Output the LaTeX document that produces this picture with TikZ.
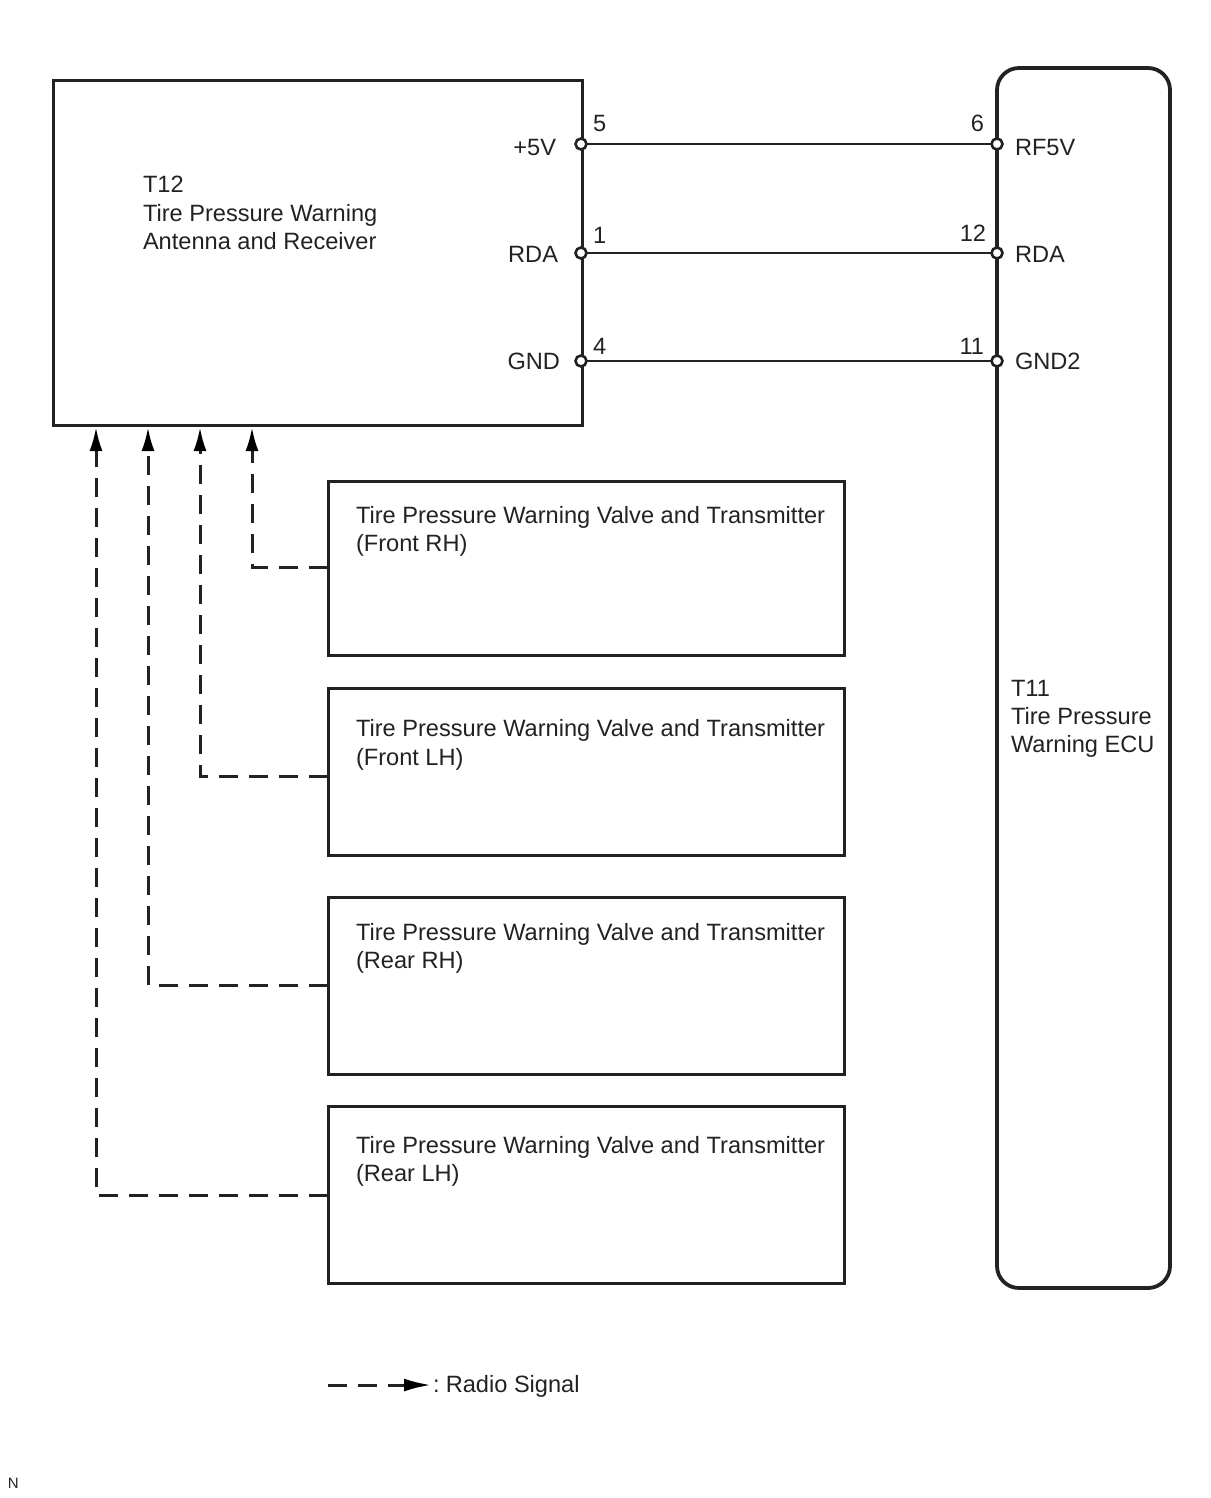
\documentclass[tikz,border=0pt]{standalone}
\usepackage{fontspec}
\setmainfont{Liberation Sans}
\usetikzlibrary{arrows.meta,calc}
\definecolor{ink}{HTML}{222222}
\tikzset{
  x=1pt,y=-1pt,
  boxed/.style={draw=ink,line width=3pt,inner sep=0pt,outer sep=0pt,anchor=north west},
  lbl/.style={inner sep=0pt,outer sep=0pt,anchor=base west,font=\fontsize{23.6}{28}\selectfont,text=ink},
  lblr/.style={lbl,anchor=base east},
  pin/.style={circle,draw=ink,fill=white,line width=2.6pt,inner sep=0pt,minimum size=11pt,outer sep=0pt},
  wire/.style={draw=ink,line width=2.7pt},
  radio/.style={draw=ink,line width=3pt,dash pattern=on 19pt off 11pt,-{Latex[length=24pt,width=13pt,color=black]}},
}
\begin{document}
\begin{tikzpicture}
\useasboundingbox (0,0) rectangle (1210,1498);
% boxes
\node[boxed,minimum width=529pt,minimum height=344pt] (rx) at (53,81) {};
\node[boxed,line width=3.8pt,rounded corners=22pt,minimum width=173pt,minimum height=1220pt] (ecu) at (997,68) {};
\node[boxed,minimum width=516pt,minimum height=174pt] (fr) at (328,481) {};
\node[boxed,minimum width=516pt,minimum height=167pt] (fl) at (328,688) {};
\node[boxed,minimum width=516pt,minimum height=177pt] (rr) at (328,897) {};
\node[boxed,minimum width=516pt,minimum height=177pt] (rl) at (328,1106) {};
% pins
\node[pin] (p5) at (581,144) {};
\node[pin] (p1) at (581,253) {};
\node[pin] (p4) at (581,361) {};
\node[pin] (p6) at (997,144) {};
\node[pin] (p12) at (997,253) {};
\node[pin] (p11) at (997,361) {};
\draw[wire] (p5) -- (p6);
\draw[wire] (p1) -- (p12);
\draw[wire] (p4) -- (p11);
% radio connectors
\coordinate (a1) at (252,427);
\coordinate (a2) at (200,427);
\coordinate (a3) at (148,427);
\coordinate (a4) at (96,427);
\coordinate (t1) at (328,567);
\coordinate (t2) at (328,776);
\coordinate (t3) at (328,985);
\coordinate (t4) at (328,1195);
\draw[radio] (t1) -| (a1);
\draw[radio] (t2) -| (a2);
\draw[radio] (t3) -| (a3);
\draw[radio] (t4) -| (a4);
% pin labels
\node[lbl] (n5) at (593,132) {5};
\node[lbl] (n1) at (593,243) {1};
\node[lbl] (n4) at (593,354) {4};
\node[lblr] (n6) at (984,132) {6};
\node[lblr] (n12) at (986,241) {12};
\node[lblr] (n11) at (984,354) {11};
\node[lblr] (s5v) at (556,156) {+5V};
\node[lblr] (srda) at (558,262) {RDA};
\node[lblr] (sgnd) at (560,369) {GND};
\node[lbl] (rf) at (1015,156) {RF5V};
\node[lbl] (rda2) at (1015,262) {RDA};
\node[lbl] (gnd2) at (1015,369) {GND2};
% box texts
\node[lbl] (t12a) at (143,193) {T12};
\node[lbl] (t12b) at (143,221) {Tire Pressure Warning};
\node[lbl] (t12c) at (143,249) {Antenna and Receiver};
\node[lbl] (t11a) at (1011,696) {T11};
\node[lbl] (t11b) at (1011,724) {Tire Pressure};
\node[lbl] (t11c) at (1011,752) {Warning ECU};
\node[lbl] (fra) at (356,523) {Tire Pressure Warning Valve and Transmitter};
\node[lbl] (frb) at (356,551) {(Front RH)};
\node[lbl] (fla) at (356,736) {Tire Pressure Warning Valve and Transmitter};
\node[lbl] (flb) at (356,765) {(Front LH)};
\node[lbl] (rra) at (356,940) {Tire Pressure Warning Valve and Transmitter};
\node[lbl] (rrb) at (356,968) {(Rear RH)};
\node[lbl] (rla) at (356,1153) {Tire Pressure Warning Valve and Transmitter};
\node[lbl] (rlb) at (356,1181) {(Rear LH)};
% legend
\coordinate (l1) at (328,1385);
\coordinate (l2) at (431,1385);
\draw[radio,{-{Latex[length=27pt,width=13pt,color=black]}}] (l1) -- (l2);
\node[lbl] (leg) at (433,1392) {:\kern-2.5pt{} Radio Signal};
\node[lbl,font=\fontsize{15}{18}\selectfont] (nn) at (8,1488) {N};
\end{tikzpicture}
\end{document}
